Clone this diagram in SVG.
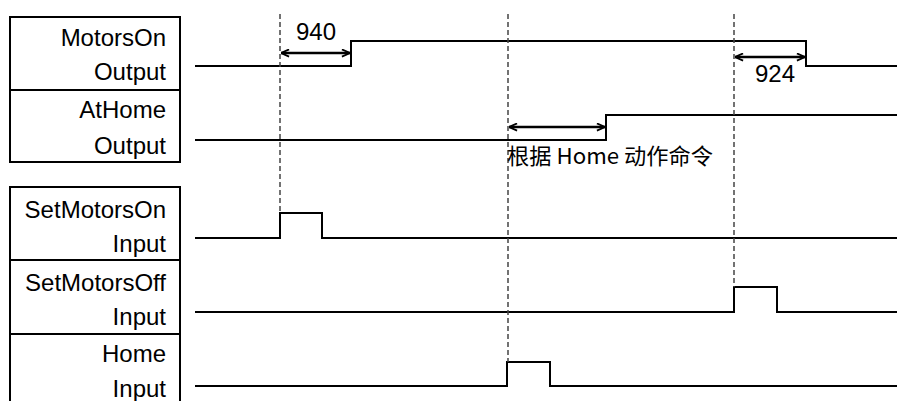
<svg xmlns="http://www.w3.org/2000/svg" width="897" height="401" viewBox="0 0 897 401">
<style>
  .lbl { font-family: "Liberation Sans", Arial, sans-serif; font-size: 24px; fill: #000; text-anchor: end; }
  .num { font-family: "Liberation Sans", Arial, sans-serif; font-size: 24px; fill: #000; }
  .cjk { font-family: "Noto Sans CJK SC", sans-serif; font-size: 22px; fill: #000; }
  .box { fill: none; stroke: #000; stroke-width: 2; }
  .wave { fill: none; stroke: #000; stroke-width: 2; stroke-linejoin: miter; }
  .dash { fill: none; stroke: #444; stroke-width: 1.5; stroke-dasharray: 5,3; }
  .dim { fill: none; stroke: #000; stroke-width: 2.5; marker-start: url(#ah); marker-end: url(#ah); }
</style>
<defs>
  <marker id="ah" viewBox="0 0 10 10" refX="10" refY="5" markerWidth="9" markerHeight="9" markerUnits="userSpaceOnUse" orient="auto-start-reverse">
    <path d="M1,1 L10,5 L1,9" fill="none" stroke="#000" stroke-width="2"/>
  </marker>
</defs>
<rect width="897" height="401" fill="#fff"/>

<g id="MotorsOn">
  <path class="box" d="M10,17 H180 V90 H10 Z"/>
  <text class="lbl" x="166" y="46">MotorsOn</text>
  <text class="lbl" x="166" y="80">Output</text>
  <polyline class="wave" points="195,66 351,66 351,41 806,41 806,66 897,66"/>
</g>
<g id="AtHome">
  <path class="box" d="M10,90 V162 H180 V90"/>
  <text class="lbl" x="166" y="118">AtHome</text>
  <text class="lbl" x="166" y="154">Output</text>
  <polyline class="wave" points="195,140 606,140 606,115 897,115"/>
</g>
<g id="SetMotorsOn">
  <path class="box" d="M10,187 H180 V260 H10 Z"/>
  <text class="lbl" x="166" y="218">SetMotorsOn</text>
  <text class="lbl" x="166" y="252">Input</text>
  <polyline class="wave" points="195,238 280,238 280,213 322,213 322,238 897,238"/>
</g>
<g id="SetMotorsOff">
  <path class="box" d="M10,260 V334 H180 V260"/>
  <text class="lbl" x="166" y="291">SetMotorsOff</text>
  <text class="lbl" x="166" y="325">Input</text>
  <polyline class="wave" points="195,312 734,312 734,287 777,287 777,312 897,312"/>
</g>
<g id="Home">
  <path class="box" d="M10,334 V401 M180,334 V401"/>
  <text class="lbl" x="166" y="362">Home</text>
  <text class="lbl" x="166" y="397">Input</text>
  <polyline class="wave" points="195,386 507,386 507,362 550,362 550,386 897,386"/>
</g>

<g id="connectors">
  <line class="dash" x1="280" y1="14" x2="280" y2="213"/>
  <line class="dash" x1="508" y1="14" x2="508" y2="362"/>
  <line class="dash" x1="734" y1="14" x2="734" y2="287"/>
  <line class="dim" x1="281" y1="53" x2="350" y2="53"/>
  <text class="num" x="296" y="40">940</text>
  <line class="dim" x1="735" y1="57" x2="805" y2="57"/>
  <text class="num" x="755" y="82">924</text>
  <line class="dim" x1="509" y1="127" x2="605" y2="127"/>
  <text class="cjk" x="507" y="164" textLength="206" lengthAdjust="spacingAndGlyphs">根据 Home 动作命令</text>
</g>
</svg>
